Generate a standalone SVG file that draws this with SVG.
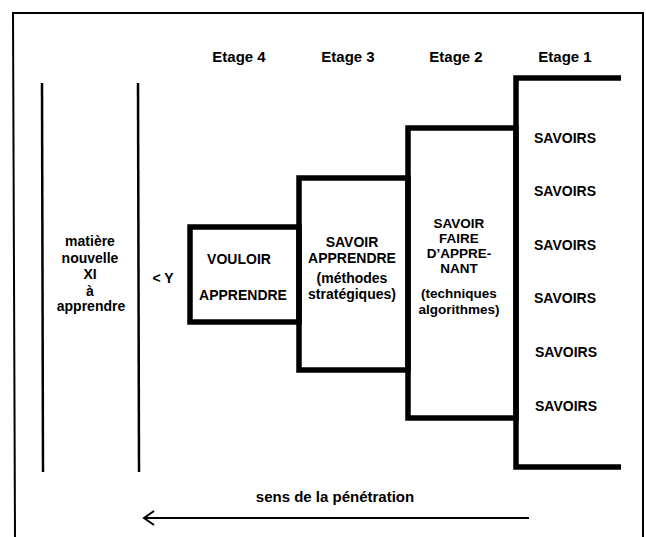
<svg xmlns="http://www.w3.org/2000/svg" width="646" height="537" viewBox="0 0 646 537">
<style>
.frame{fill:none;stroke:#000;stroke-width:2}
.thin{fill:none;stroke:#000;stroke-width:2.5}
.thick{fill:none;stroke:#000;stroke-width:5.5;stroke-linejoin:miter;stroke-linecap:square}
text{font-family:"Liberation Sans",Arial,sans-serif;font-weight:bold;fill:#000;text-anchor:middle}
.hd{font-size:15px}
.t{font-size:14px}
.s{font-size:13.5px}
.conn{fill:none;stroke:#000;stroke-width:2}
</style>
<rect width="646" height="537" fill="#fff"/>
<path class="frame" d="M15,537 L13,13 H643 V537"/>
<g id="headers">
<text class="hd" x="239" y="62">Etage 4</text>
<text class="hd" x="348" y="62">Etage 3</text>
<text class="hd" x="456" y="62">Etage 2</text>
<text class="hd" x="565" y="62">Etage 1</text>
</g>
<g id="matiere">
<line class="thin" x1="42" y1="83" x2="43" y2="472"/>
<line class="thin" x1="138" y1="83" x2="139" y2="472"/>
<text class="t" x="90" y="246">matière</text>
<text class="t" x="90" y="263">nouvelle</text>
<text class="t" x="90" y="279">XI</text>
<text class="t" x="90" y="296">à</text>
<text class="t" x="91" y="311">apprendre</text>
</g>
<g id="lessY">
<text class="t" x="163" y="283">&lt; Y</text>
</g>
<g id="etage4">
<rect class="thick" x="190" y="227" width="109" height="95"/>
<text class="t" x="239" y="264">VOULOIR</text>
<text class="t" x="243" y="300">APPRENDRE</text>
</g>
<g id="etage3">
<rect class="thick" x="299" y="178" width="109" height="192"/>
<text class="t" x="352" y="247">SAVOIR</text>
<text class="t" x="352" y="263">APPRENDRE</text>
<text class="t" x="352" y="283">(méthodes</text>
<text class="t" x="352" y="299">stratégiques)</text>
</g>
<g id="etage2">
<rect class="thick" x="408" y="128" width="108" height="290"/>
<text class="s" x="459" y="228">SAVOIR</text>
<text class="s" x="459" y="243">FAIRE</text>
<text class="s" x="459" y="258">D’APPRE-</text>
<text class="s" x="459" y="273">NANT</text>
<text class="s" x="459" y="298">(techniques</text>
<text class="s" x="459" y="314">algorithmes)</text>
</g>
<g id="etage1">
<path class="thick" d="M621,78 H516 V467 H621" style="stroke-linecap:butt"/>
<text class="t" x="565" y="143">SAVOIRS</text>
<text class="t" x="565" y="196">SAVOIRS</text>
<text class="t" x="565" y="250">SAVOIRS</text>
<text class="t" x="565" y="303">SAVOIRS</text>
<text class="t" x="566" y="357">SAVOIRS</text>
<text class="t" x="566" y="411">SAVOIRS</text>
</g>
<g id="connectors">
<line class="conn" x1="529" y1="518" x2="144" y2="518"/>
<path class="conn" d="M154,511 L144,518 L154,525"/>
<text class="hd" x="335" y="502">sens de la pénétration</text>
</g>
</svg>
